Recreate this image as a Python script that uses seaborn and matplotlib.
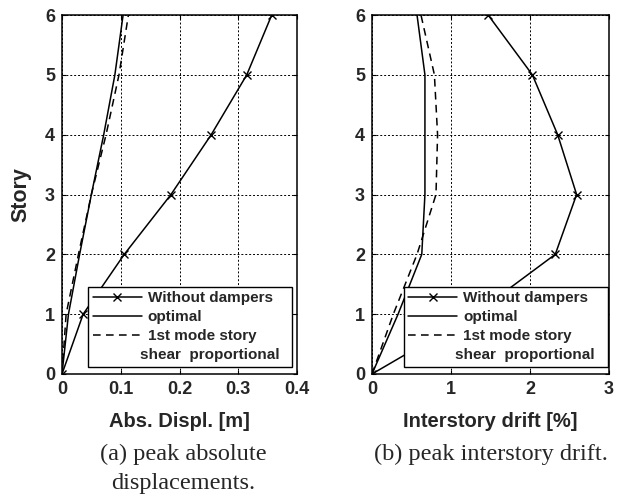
import numpy as np
import pandas as pd
import matplotlib
matplotlib.use("Agg")
import matplotlib.pyplot as plt
import matplotlib.transforms as mtransforms
from matplotlib.lines import Line2D
import seaborn as sns

# Story levels (ground = 0)
stories = [0, 1, 2, 3, 4, 5, 6]

# Peak absolute displacement [m]
displ_without = [0.0, 0.036, 0.106, 0.1855, 0.254, 0.3145, 0.357]
displ_optimal = [0.0, 0.011, 0.030, 0.050, 0.071, 0.090, 0.104]
displ_mode1 = [0.0, 0.007, 0.028, 0.050, 0.075, 0.097, 0.113]

# Peak interstory drift [%]
drift_without = [0.0, 1.30, 2.32, 2.59, 2.35, 2.03, 1.47]
drift_optimal = [0.0, 0.33, 0.63, 0.67, 0.67, 0.67, 0.57]
drift_mode1 = [0.0, 0.27, 0.57, 0.81, 0.83, 0.79, 0.62]

series_labels = ["Without dampers", "optimal", "1st mode story", "shear  proportional"]
x_labels = ["Abs. Displ. [m]", "Interstory drift [%]"]
captions = [["(a) peak absolute", "displacements."], ["(b) peak interstory drift."]]

sns.set_style("white")
plt.rcParams["font.family"] = ["Liberation Sans", "DejaVu Sans"]

W, H = 621, 496
fig = plt.figure(figsize=(W / 100, H / 100), dpi=100)
ax_a = fig.add_axes([62 / W, 1 - 374 / H, 235 / W, 359 / H])
ax_b = fig.add_axes([372 / W, 1 - 374 / H, 237 / W, 359 / H])

dash = (0, (5, 3.5))
panels = [
    (ax_a, displ_without, displ_optimal, displ_mode1, [0, 0.1, 0.2, 0.3, 0.4], ["0", "0.1", "0.2", "0.3", "0.4"], 0.4),
    (ax_b, drift_without, drift_optimal, drift_mode1, [0, 1, 2, 3], ["0", "1", "2", "3"], 3.0),
]

for i, (ax, wo, opt, m1, xt, xtl, xmax) in enumerate(panels):
    df = pd.DataFrame({"story": stories, "without": wo, "optimal": opt, "mode1": m1})
    sns.lineplot(data=df, x="without", y="story", sort=False, estimator=None, ax=ax,
                 color="black", lw=1.1, marker="x", markersize=6, mew=1.0, mec="black")
    sns.lineplot(data=df, x="optimal", y="story", sort=False, estimator=None, ax=ax,
                 color="black", lw=1.1)
    sns.lineplot(data=df, x="mode1", y="story", sort=False, estimator=None, ax=ax,
                 color="black", lw=1.1, linestyle=dash)
    ax.set_xlim(0, xmax)
    ax.set_ylim(0, 6)
    ax.set_xticks(xt)
    ax.set_xticklabels(xtl)
    ax.set_yticks(stories)
    ax.set_yticklabels([str(s) for s in stories])
    ax.tick_params(axis="both", labelsize=13, direction="in", length=3, width=0.8,
                   color="black", pad=5, top=True, right=True, bottom=True, left=True)
    for lab in ax.get_xticklabels() + ax.get_yticklabels():
        lab.set_fontweight("bold")
    ax.grid(True, color="black", linestyle=(0, (2, 2)), lw=0.7)
    for sp in ax.spines.values():
        sp.set_visible(True)
        sp.set_color("black")
        sp.set_linewidth(1.1)
    ax.set_xlabel(x_labels[i], fontsize=14.5, fontweight="bold", labelpad=10)
    ax.set_ylabel("Story" if i == 0 else "", fontsize=15.5, fontweight="bold", labelpad=10)

    handles = [
        Line2D([], [], color="black", lw=1.1, marker="x", markersize=6, mew=1.0),
        Line2D([], [], color="black", lw=1.1),
        Line2D([], [], color="black", lw=1.1, linestyle=dash),
        Line2D([], [], color="none", lw=0),
    ]
    anchor_x = 0.979 if i == 0 else 0.994
    leg = ax.legend(handles, series_labels, loc="lower right", bbox_to_anchor=(anchor_x, 0.0195),
                    frameon=True, fancybox=False, framealpha=1, edgecolor="black",
                    prop={"weight": "bold", "size": 11}, handlelength=3.2, handletextpad=0.4,
                    labelspacing=0.33, borderpad=0.3, borderaxespad=0)
    leg.get_frame().set_linewidth(1.0)
    # second line of the third entry hangs slightly to the left
    t = leg.get_texts()[3]
    t.set_transform(t.get_transform() + mtransforms.ScaledTranslation(-6 / 72, 0, fig.dpi_scale_trans))

    pos = ax.get_position()
    cx = pos.x0 + pos.width / 2 + (4 / W if i == 0 else 0)
    for k, line in enumerate(captions[i]):
        fig.text(cx, 1 - (460 + 29 * k) / H, line, ha="center", va="baseline", fontsize=17.5,
                 family=["Liberation Serif", "DejaVu Serif"])

fig.savefig("out.png", dpi=100)
